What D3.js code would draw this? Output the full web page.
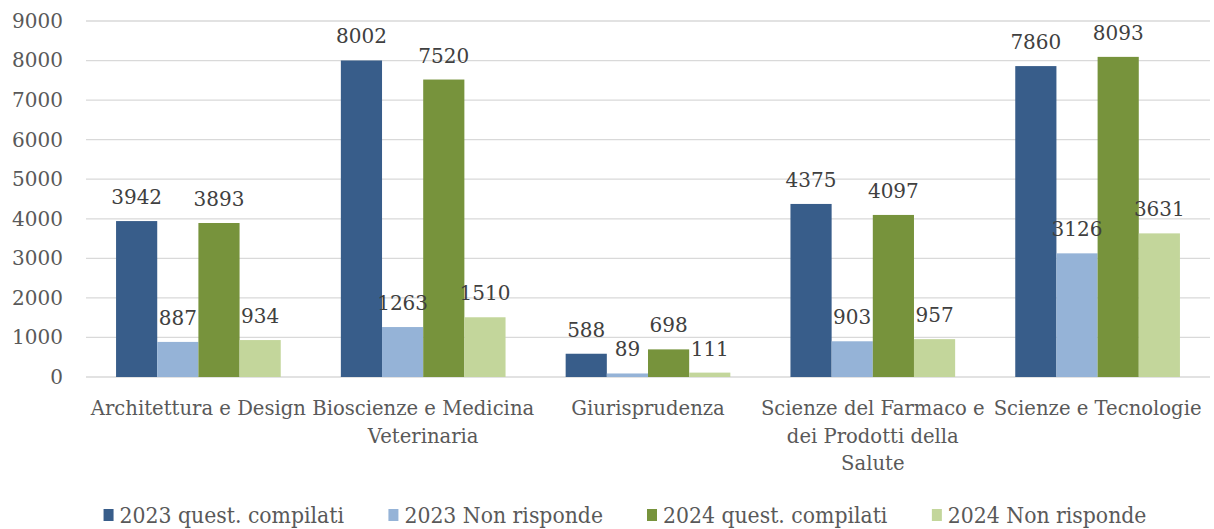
<!DOCTYPE html>
<html>
    <head>
        <meta charset="utf-8">
        <title>Questionari compilati e non risponde</title>
        <style>
            body {
                margin: 0;
                background: #fff;
            }
            .tick text {
                font-family: "DejaVu Serif", serif;
                font-size: 20px;
                fill: #595959;
            }
            .vlabel {
                font-family: "DejaVu Serif", serif;
                font-size: 20px;
                fill: #404040;
            }
            .catlabel {
                font-family: "DejaVu Serif", serif;
                font-size: 19.6px;
                fill: #595959;
            }
            .legendtext {
                font-family: "DejaVu Serif", serif;
                font-stretch: condensed;
                font-size: 22.7px;
                fill: #595959;
            }
        </style>
        <script src="https://d3js.org/d3.v7.min.js"></script>
    </head>
    <body>
        <svg width="1214" height="529"></svg>
        <script type="text/javascript">

            // data
            var categories = ["Architettura e Design", "Bioscienze e Medicina\nVeterinaria", "Giurisprudenza",
                              "Scienze del Farmaco e\ndei Prodotti della\nSalute", "Scienze e Tecnologie"];
            var seriesNames = ["2023 quest. compilati", "2023 Non risponde", "2024 quest. compilati", "2024 Non risponde"];
            var q2023 = [3942, 8002, 588, 4375, 7860];
            var nr2023 = [887, 1263, 89, 903, 3126];
            var q2024 = [3893, 7520, 698, 4097, 8093];
            var nr2024 = [934, 1510, 111, 957, 3631];
            var yTicks = [0, 1000, 2000, 3000, 4000, 5000, 6000, 7000, 8000, 9000];
            var colours = ["#385D8A", "#95B3D7", "#77933C", "#C3D69B"];

            var series = [q2023, nr2023, q2024, nr2024];

            var svg = d3.select("svg"),
                margin = {top: 21, right: 4, bottom: 152, left: 86},
                width = +svg.attr("width") - margin.left - margin.right,
                height = +svg.attr("height") - margin.top - margin.bottom;

            var g = svg.append("g")
                .attr("transform", "translate(" + margin.left + "," + margin.top + ")");

            //scales
            var x0 = d3.scaleBand().domain(categories).range([0, width]).padding(0);
            var x1 = d3.scaleBand().domain(d3.range(series.length))
                .range([0, x0.bandwidth()]).paddingOuter(0.73).paddingInner(0);
            var y = d3.scaleLinear().domain([0, 9000]).range([height, 0]);

            //gridlines
            g.selectAll(".grid")
                .data(yTicks)
                .enter().append("line")
                .attr("class", "grid")
                .attr("x1", 0)
                .attr("x2", width)
                .attr("y1", function(d){ return y(d); })
                .attr("y2", function(d){ return y(d); })
                .attr("stroke", "#D9D9D9")
                .attr("stroke-width", 1.3);

            //y axis, labels only
            var yAxis = g.append("g")
                .call(d3.axisLeft(y).tickValues(yTicks).tickSize(0).tickPadding(23).tickFormat(d3.format("d")));
            yAxis.select(".domain").remove();

            //bars
            var flat = [];
            series.forEach(function(s, si){
                s.forEach(function(v, ci){
                    flat.push({cat: categories[ci], s: si, value: v});
                });
            });

            g.selectAll(".bar")
                .data(flat)
                .enter().append("rect")
                .attr("class", "bar")
                .attr("x", function(d){ return x0(d.cat) + x1(d.s); })
                .attr("width", x1.bandwidth())
                .attr("y", function(d){ return y(d.value); })
                .attr("height", function(d){ return height - y(d.value); })
                .attr("fill", function(d){ return colours[d.s]; });

            //value labels
            g.selectAll(".vlabel")
                .data(flat)
                .enter().append("text")
                .attr("class", "vlabel")
                .attr("text-anchor", "middle")
                .attr("x", function(d){ return x0(d.cat) + x1(d.s) + x1.bandwidth() / 2; })
                .attr("y", function(d){ return y(d.value) - 17; })
                .text(function(d){ return d.value; });

            //category labels (multi line)
            var cat = g.selectAll(".catlabel")
                .data(categories)
                .enter().append("text")
                .attr("class", "catlabel")
                .attr("text-anchor", "middle")
                .attr("transform", function(d){ return "translate(" + (x0(d) + x0.bandwidth() / 2) + "," + (height + 38) + ")"; });
            cat.selectAll("tspan")
                .data(function(d){ return d.split("\n"); })
                .enter().append("tspan")
                .attr("x", 0)
                .attr("dy", function(d, i){ return i === 0 ? 0 : 27.5; })
                .text(function(d){ return d; });

            //legend, laid out from measured text widths
            var legend = svg.append("g").attr("transform", "translate(0,515)");
            var items = legend.selectAll(".item")
                .data(seriesNames)
                .enter().append("g")
                .attr("class", "item");
            items.append("rect")
                .attr("width", 10)
                .attr("height", 12)
                .attr("y", -6)
                .attr("fill", function(d, i){ return colours[i]; });
            items.append("text")
                .attr("class", "legendtext")
                .attr("x", 16)
                .attr("y", 8)
                .text(function(d){ return d; });

            var widths = [];
            items.each(function(){ widths.push(this.getBBox().width); });
            var gap = 44;
            var total = d3.sum(widths) + gap * (widths.length - 1);
            var pos = (+svg.attr("width") - total) / 2 + 18;
            items.attr("transform", function(d, i){
                var p = pos;
                pos += widths[i] + gap;
                return "translate(" + p + ",0)";
            });

        </script>
    </body>
</html>
